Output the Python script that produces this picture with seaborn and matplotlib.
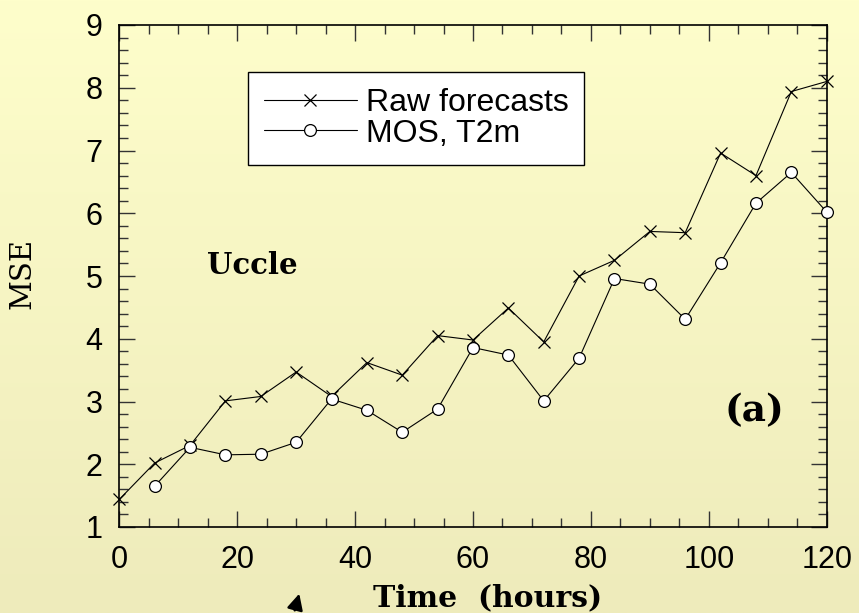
import numpy as np
import matplotlib
matplotlib.use("Agg")
import matplotlib.pyplot as plt
from matplotlib.ticker import MultipleLocator
import seaborn as sns

# Forecast lead times (hours) and mean squared errors
hours_raw = [0, 6, 12, 18, 24, 30, 36, 42, 48, 54, 60, 66, 72, 78, 84, 90, 96, 102, 108, 114, 120]
mse_raw = [1.44, 2.02, 2.30, 3.01, 3.08, 3.47, 3.08, 3.62, 3.42, 4.05, 3.98, 4.49, 3.95, 5.00,
           5.25, 5.71, 5.69, 6.96, 6.60, 7.94, 8.10]
hours_mos = [6, 12, 18, 24, 30, 36, 42, 48, 54, 60, 66, 72, 78, 84, 90, 96, 102, 108, 114, 120]
mse_mos = [1.65, 2.27, 2.15, 2.16, 2.35, 3.04, 2.86, 2.51, 2.88, 3.86, 3.74, 3.01, 3.69, 4.96,
           4.87, 4.31, 5.21, 6.16, 6.65, 6.02]
series_labels = ["Raw forecasts", "MOS, T2m"]
x_ticks = [0, 20, 40, 60, 80, 100, 120]
y_ticks = [1, 2, 3, 4, 5, 6, 7, 8, 9]

sns.set_theme(style="ticks")
plt.rcParams["font.family"] = ["Liberation Sans", "DejaVu Sans"]
plt.rcParams["text.color"] = "black"
plt.rcParams["axes.labelcolor"] = "black"
plt.rcParams["xtick.labelcolor"] = "black"
plt.rcParams["ytick.labelcolor"] = "black"

W, H, DPI = 859, 613, 100
fig = plt.figure(figsize=(W / DPI, H / DPI), dpi=DPI)

# pale yellow vertical gradient behind everything
bg = fig.add_axes([0, 0, 1, 1], zorder=-10)
top_c = np.array([254, 254, 203]) / 255
bot_c = np.array([238, 235, 187]) / 255
t = np.linspace(0, 1, 256)[:, None, None]
grad = top_c[None, None, :] * (1 - t) + bot_c[None, None, :] * t
bg.imshow(np.repeat(grad, 2, axis=1), aspect="auto", extent=[0, 1, 0, 1])
bg.set_axis_off()

ax = fig.add_axes([119.3 / W, 1 - 527 / H, (826.7 - 119.3) / W, (527 - 25) / H])
ax.set_facecolor("none")

sns.lineplot(x=hours_raw, y=mse_raw, ax=ax, color="black", linewidth=0.8,
             marker="x", markersize=8, markeredgewidth=0.9, markeredgecolor="black",
             label=series_labels[0], clip_on=False, zorder=3)
sns.lineplot(x=hours_mos, y=mse_mos, ax=ax, color="black", linewidth=0.8,
             marker="o", markersize=8.5, markerfacecolor="white", markeredgecolor="black",
             markeredgewidth=0.9, label=series_labels[1], clip_on=False, zorder=4)

ax.set_xlim(0, 120)
ax.set_ylim(1, 9)
ax.set_xticks(x_ticks)
ax.set_yticks(y_ticks)
ax.xaxis.set_minor_locator(MultipleLocator(5))
ax.yaxis.set_minor_locator(MultipleLocator(0.2))
ax.tick_params(which="both", direction="in", top=True, right=True, color="#333333", width=1.0)
ax.tick_params(which="major", length=11.5)
ax.tick_params(which="minor", length=6.5)
ax.tick_params(axis="x", which="major", labelsize=22, pad=13)
ax.tick_params(axis="y", which="major", labelsize=22, pad=12)
for s in ax.spines.values():
    s.set_visible(True)
    s.set_color("black")
    s.set_linewidth(1.2)

ax.set_xlabel("Time  (hours)", family="DejaVu Serif", fontweight="bold", fontsize=21.5)
ax.xaxis.set_label_coords((488 - 119.3) / (826.7 - 119.3), -(598 - 527) / (527 - 25),
                          transform=ax.transAxes)
ax.xaxis.label.set_va("center")
ax.set_ylabel("MSE", family="DejaVu Serif", fontsize=21)
ax.yaxis.set_label_coords(-(119.3 - 22) / (826.7 - 119.3), (527 - 273) / (527 - 25),
                          transform=ax.transAxes)
ax.yaxis.label.set_va("center")

ax.text(22.5, 5.16, "Uccle", family="DejaVu Serif", fontweight="bold", fontsize=21,
        ha="center", va="center")
ax.text(107.8, 2.86, "(a)", family="DejaVu Serif", fontweight="bold", fontsize=27,
        ha="center", va="center")

leg = ax.legend(loc="upper left", bbox_to_anchor=(248 / W, 1 - 72 / H),
                bbox_transform=fig.transFigure, fontsize=23, frameon=True, fancybox=False,
                edgecolor="black", facecolor="white", framealpha=1, handlelength=2.9,
                handletextpad=0.28, labelspacing=0.02, borderpad=0.5, borderaxespad=0,
                labelcolor="black")
leg.get_frame().set_linewidth(1.0)

# small pointer arrow below the axis
ax.annotate("", xy=(300, H - 591), xycoords="figure pixels",
            xytext=(294, 0), textcoords="figure pixels",
            arrowprops=dict(arrowstyle="-|>", color="black", lw=1.8, mutation_scale=24))

fig.savefig("out.png", dpi=DPI)
